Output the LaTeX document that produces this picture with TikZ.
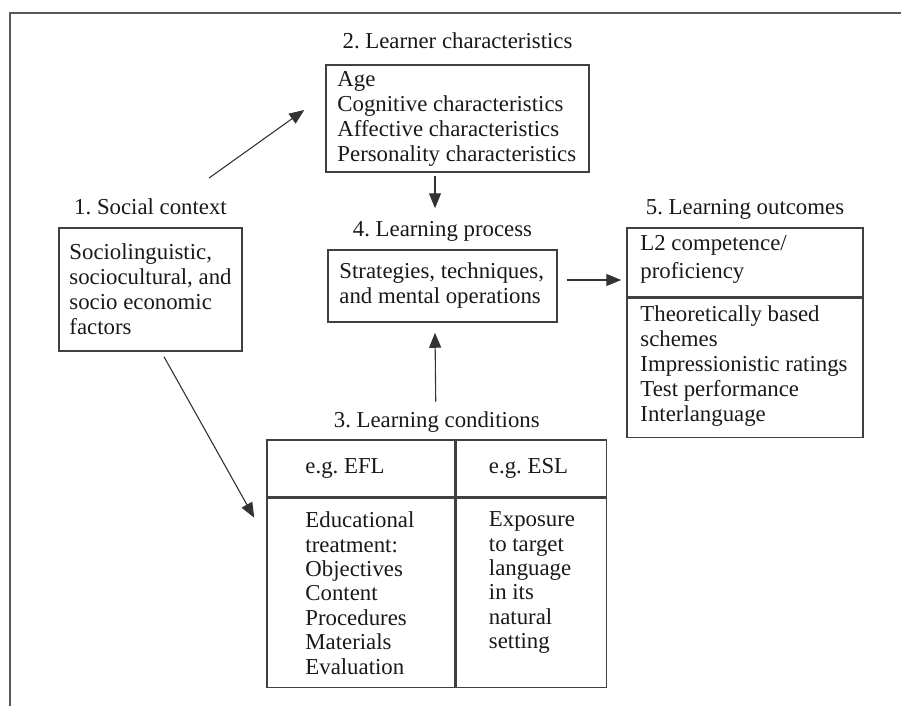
\documentclass[tikz,border=0pt]{standalone}
\usepackage{fontspec}
\setmainfont{Liberation Serif}
\usetikzlibrary{arrows.meta,positioning}
\frenchspacing

\tikzset{
  box/.style={draw=black!75, line width=1.5pt, inner sep=0pt},
  txt/.style={align=left, inner sep=0pt, text=black!90,
    font=\fontsize{22.8pt}{25pt}\selectfont},
  ttl/.style={inner sep=0pt, text depth=0pt, text=black!90,
    font=\fontsize{22.8pt}{25pt}\selectfont},
  arr/.style={line width=1.1pt, draw=black!80,
    -{Triangle[length=15pt,width=12pt]}},
}

\begin{document}
\begin{tikzpicture}[x=1pt,y=-1pt]
\useasboundingbox (0,0) rectangle (901,706);

% frame
\draw[line width=1.5pt, black!65] (10,706) -- (10,13) -- (901,13);

% 1. social context
\node[box, minimum width=183pt, minimum height=123pt] (sc) at (150.5,289.5) {};
\node[txt, anchor=west] (sctxt) at ([xshift=11pt]sc.west)
  {Sociolinguistic,\\sociocultural, and\\socio economic\\factors};
\node[ttl, above=13pt of sc] (scttl) {1. Social context};

% 2. learner characteristics
\node[box, minimum width=263pt, minimum height=107pt] (lc) at (457.5,118.5) {};
\node[txt, anchor=west] (lctxt) at ([xshift=12pt]lc.west)
  {Age\\Cognitive characteristics\\Affective characteristics\\Personality characteristics};
\node[ttl, above=16pt of lc] (lcttl) {2. Learner characteristics};

% 4. learning process
\node[box, minimum width=229pt, minimum height=72pt] (lp) at (442.5,286) {};
\node[txt, anchor=west] (lptxt) at ([xshift=12pt]lp.west)
  {Strategies, techniques,\\and mental operations};
\node[ttl, above=13pt of lp] (lpttl) {4. Learning process};

% 5. learning outcomes
\node[box, minimum width=236pt, minimum height=69pt] (lo) at (745,262.5) {};
\node[box, minimum width=236pt, minimum height=139pt, below=0pt of lo] (lob) {};
\node[txt, anchor=west, font=\fontsize{22.8pt}{27.5pt}\selectfont] (lotxt)
  at ([xshift=14pt,yshift=3pt]lo.west) {L2 competence/\\proficiency};
\node[txt, anchor=west] (lobtxt) at ([xshift=14pt,yshift=2pt]lob.west)
  {Theoretically based\\schemes\\Impressionistic ratings\\Test performance\\Interlanguage};
\node[ttl, above=13pt of lo] (lottl) {5. Learning outcomes};

% 3. learning conditions
\node[box, minimum width=188pt, minimum height=57pt] (efl) at (361,468.5) {};
\node[box, minimum width=150pt, minimum height=57pt, right=0pt of efl] (esl) {};
\node[box, minimum width=188pt, minimum height=189pt, below=0pt of efl] (eflb) {};
\node[box, minimum width=150pt, minimum height=189pt, below=0pt of esl] (eslb) {};
\node[txt, anchor=west] (efltxt) at ([xshift=39pt]efl.west) {e.g. EFL};
\node[txt, anchor=west] (esltxt) at ([xshift=33pt]esl.west) {e.g. ESL};
\node[txt, anchor=west, font=\fontsize{22.8pt}{24.4pt}\selectfont] (eflbtxt)
  at ([xshift=39pt]eflb.west)
  {Educational\\treatment:\\Objectives\\Content\\Procedures\\Materials\\Evaluation};
\node[txt, anchor=north west, font=\fontsize{22.8pt}{24.4pt}\selectfont] (eslbtxt)
  at ([xshift=33pt]eflbtxt.north -| eslb.west)
  {Exposure\\to target\\language\\in its\\natural\\setting};
\path (efl.north west) -- (esl.north east)
  node[ttl, midway, above=12pt] (lcdttl) {3. Learning conditions};

% arrows
\draw[arr] ([xshift=-18pt,yshift=20pt]scttl.north east) -- ([xshift=-21pt,yshift=8.5pt]lc.west);
\draw[arr] ([xshift=13.5pt,yshift=-5pt]sc.south) -- ([xshift=-12pt,yshift=-20pt]eflb.north west);
\draw[arr] ([xshift=-22.5pt,yshift=-3pt]lc.south) -- ([xshift=-7.5pt,yshift=12.5pt]lpttl.north);
\draw[arr] ([xshift=-1pt,yshift=9.5pt]lcdttl.north) -- ([xshift=-7.5pt,yshift=-10pt]lp.south);
\draw[arr] ([xshift=9pt,yshift=6pt]lp.east) -- ([xshift=-5pt,yshift=-17.5pt]lo.west);
\end{tikzpicture}
\end{document}
